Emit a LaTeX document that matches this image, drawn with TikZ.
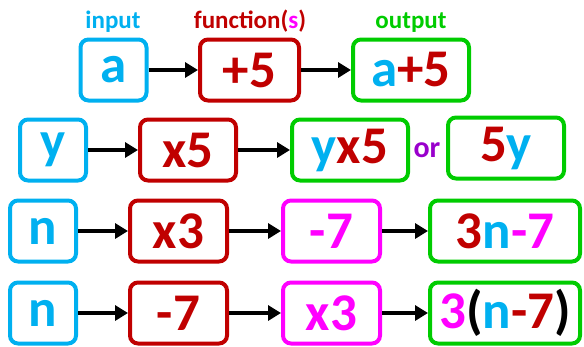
\documentclass[tikz,border=0pt]{standalone}
\usepackage{fontspec}
\setmainfont{Carlito}
\usetikzlibrary{arrows.meta}

\definecolor{inblue}{HTML}{00B0F0}
\definecolor{fnred}{HTML}{C00000}
\definecolor{outgreen}{HTML}{00CC00}
\definecolor{fnpink}{HTML}{FF00FF}
\definecolor{orpurple}{HTML}{9900CC}

\begin{document}
\begin{tikzpicture}[
    x=1pt, y=-1pt,
    % estilos de las cajas
    box/.style={rounded corners=8pt, line width=4pt, minimum height=61pt,
      inner sep=0pt, font=\fontsize{53}{53}\selectfont\bfseries},
    inbox/.style={box, draw=inblue, text=inblue, minimum width=66pt},
    funbox/.style={box, draw=fnred, text=fnred, minimum width=97pt},
    fun2box/.style={box, draw=fnpink, text=fnpink, minimum width=97pt},
    outbox/.style={box, draw=outgreen, minimum width=116pt},
    title/.style={font=\fontsize{25}{25}\selectfont\bfseries, anchor=base},
    flow/.style={-{Triangle[length=13pt, width=15pt]}, line width=4.5pt}
  ]
  \useasboundingbox (0,0) rectangle (584,346);

  % 1. Titulos
  \node[title, text=inblue] (tin) at (113,28) {input};
  \node[title, text=fnred] (tfn) at (250,28) {function(\textcolor{fnpink}{s})};
  \node[title, text=outgreen] (tout) at (411,28) {output};

  % 2. Primera fila
  \node[inbox] (a) at (113.5,70) {a};
  \node[funbox, minimum width=99pt] (p5) at (249.5,70) {+5};
  \node[outbox] (ap5) at (411,70) {\textcolor{inblue}{a}\textcolor{fnred}{+5}};

  % 3. Segunda fila
  \node[inbox] (y) at (53,150) {y};
  \node[funbox, minimum width=96pt] (x5) at (188,150) {x5};
  \node[outbox] (yx5) at (350,150) {\textcolor{inblue}{y}\textcolor{fnred}{x5}};
  \node[font=\fontsize{30}{30}\selectfont\bfseries, text=orpurple] (or) at (427,150) {or};
  \node[outbox] (fy) at (506,148) {\textcolor{fnred}{5}\textcolor{inblue}{y}};

  % 4. Tercera fila
  \node[inbox] (n1) at (43,231) {n};
  \node[funbox] (x3a) at (178.5,231) {x3};
  \node[fun2box] (m7a) at (331.5,231) {-7};
  \node[outbox, minimum width=150pt] (out3) at (505,231)
    {\textcolor{fnred}{3}\textcolor{inblue}{n}\textcolor{fnpink}{-7}};

  % 5. Cuarta fila
  \node[inbox] (n2) at (43,313) {n};
  \node[funbox] (m7b) at (178.5,313) {-7};
  \node[fun2box] (x3b) at (331.5,313) {x3};
  \node[outbox, minimum width=150pt] (out4) at (505,313)
    {\textcolor{fnpink}{3}(\textcolor{inblue}{n}\textcolor{fnred}{-7})};

  % 6. Flechas
  \draw[flow] (a) -- (p5);
  \draw[flow] (p5) -- (ap5);
  \draw[flow] (y) -- (x5);
  \draw[flow] (x5) -- (yx5);
  \draw[flow] (n1) -- (x3a);
  \draw[flow] (x3a) -- (m7a);
  \draw[flow] (m7a) -- (out3);
  \draw[flow] (n2) -- (m7b);
  \draw[flow] (m7b) -- (x3b);
  \draw[flow] (x3b) -- (out4);

\end{tikzpicture}
\end{document}
